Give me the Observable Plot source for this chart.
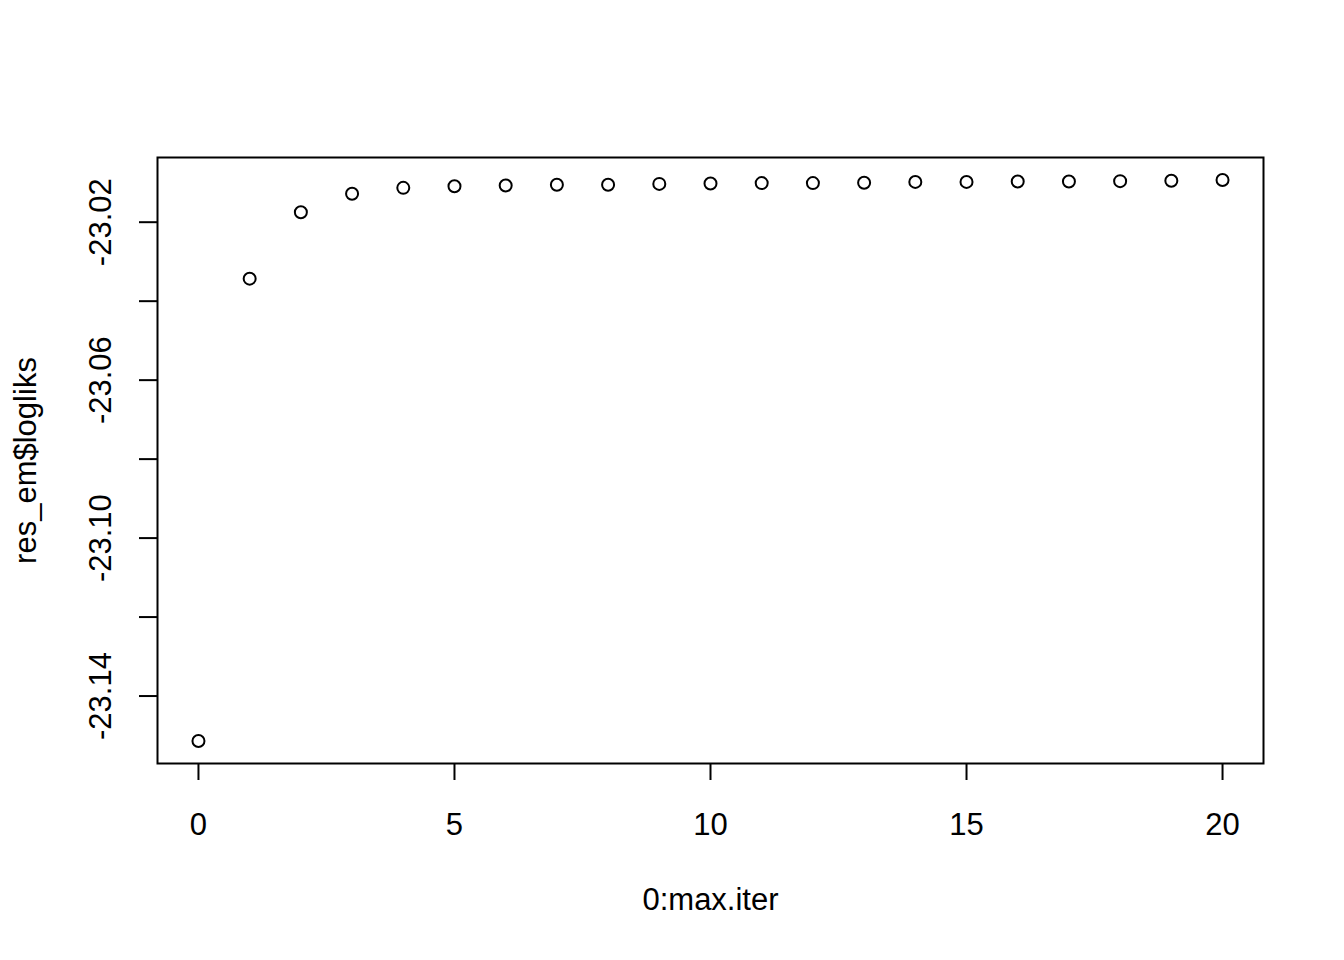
<!DOCTYPE html>
<html><head><meta charset="utf-8">
<script src="https://cdn.jsdelivr.net/npm/d3@7"></script>
<script src="https://cdn.jsdelivr.net/npm/@observablehq/plot@0.6"></script>
<style>body{margin:0;background:#fff}</style>
</head><body><div id="chart"></div>
<script>
const iterations = [0,1,2,3,4,5,6,7,8,9,10,11,12,13,14,15,16,17,18,19,20];
const logliks = [-23.1514,-23.0343,-23.0175,-23.0128,-23.0113,-23.0109,-23.0107,-23.0105,-23.0105,-23.0103,-23.0102,-23.0101,-23.0101,-23.0100,-23.0098,-23.0098,-23.0097,-23.0097,-23.0096,-23.0095,-23.0093];
const xTicks = [0,5,10,15,20];
const yTicks = [-23.14,-23.12,-23.10,-23.08,-23.06,-23.04,-23.02];
const yLabelTicks = [-23.14,-23.10,-23.06,-23.02];
const xTitle = "0:max.iter";
const yTitle = "res_em$logliks";

const data = iterations.map((it, i) => ({it, ll: logliks[i]}));
const ext = (lo, hi) => { const p = (hi - lo) * 0.04; return [lo - p, hi + p]; };
const FS = 31;

const chart = Plot.plot({
  width: 1344, height: 960,
  marginLeft: 157, marginRight: 81, marginTop: 157, marginBottom: 197,
  style: {fontFamily: "'Liberation Sans', Arial, sans-serif", fontSize: FS + "px", color: "black", background: "white"},
  x: {domain: ext(0, 20)},
  y: {domain: ext(d3.min(logliks), d3.max(logliks))},
  marks: [
    Plot.frame({stroke: "black", strokeWidth: 2}),
    Plot.axisX({ticks: xTicks, tickSize: 17, tickPadding: 32, strokeWidth: 2, fontSize: FS, label: null, tickFormat: d => String(d)}),
    Plot.axisY({ticks: yTicks, tickSize: 18, strokeWidth: 2, tickFormat: () => "", label: null}),
    Plot.text(yLabelTicks, {y: d => d, text: d => d.toFixed(2), frameAnchor: "left", dx: -56, rotate: -90, textAnchor: "middle", lineAnchor: "middle", fontSize: FS, fill: "black"}),
    Plot.text([xTitle], {text: d => d, frameAnchor: "bottom", dy: 137, lineAnchor: "middle", textAnchor: "middle", fontSize: FS, fill: "black"}),
    Plot.text([yTitle], {text: d => d, frameAnchor: "left", dx: -131, rotate: -90, lineAnchor: "middle", textAnchor: "middle", fontSize: FS, fill: "black"}),
    Plot.dot(data, {x: "it", y: "ll", r: 6, stroke: "black", strokeWidth: 2, fill: "none"})
  ]
});
document.getElementById("chart").appendChild(chart);
</script>
</body></html>
